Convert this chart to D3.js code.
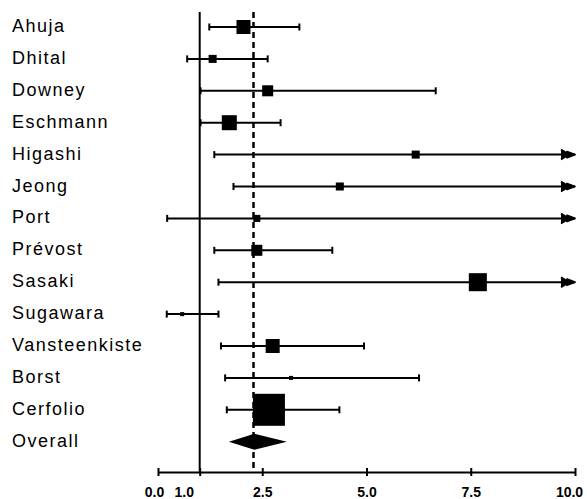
<!DOCTYPE html>
<html>
<head>
<meta charset="utf-8">
<script src="https://cdn.jsdelivr.net/npm/d3@7"></script>
<style>
  body { margin: 0; background: #fff; }
  text { font-family: "Liberation Sans", Arial, sans-serif; fill: #000; }
</style>
</head>
<body>
<div id="chart"></div>
<script>
// Forest plot of study odds ratios

var studies = ["Ahuja", "Dhital", "Downey", "Eschmann", "Higashi", "Jeong", "Port",
  "Prévost", "Sasaki", "Sugawara", "Vansteenkiste", "Borst", "Cerfolio"];
var estimates = [2.05, 1.31, 2.63, 1.71, 6.18, 4.36, 2.37, 2.37, 7.67, 0.58, 2.75, 3.19, 2.66];
var lowers = [1.23, 0.70, 1.02, 1.02, 1.35, 1.81, 0.22, 1.35, 1.45, 0.21, 1.51, 1.61, 1.65];
var uppers = [3.39, 2.63, 6.66, 2.94, 28.3, 10.6, 25.4, 4.18, 40.6, 1.45, 4.94, 6.26, 4.35];
var weights = [7.9, 2.6, 4.9, 9.1, 2.6, 2.6, 2.0, 4.9, 13.1, 0.6, 7.9, 0.6, 41.3];

var overall = {label: "Overall", estimate: 2.31, lower: 1.70, upper: 3.09};
var pooled = 2.29; // dashed reference line
var tickValues = [0, 1, 2.5, 5, 7.5, 10];

var width = 587, height = 499;

var svg = d3.select("#chart")
    .append("svg")
    .attr("width", width)
    .attr("height", height);

var x = d3.scaleLinear()
    .domain([0, 10])
    .range([158, 575]);

var y = d3.scalePoint()
    .domain(studies.concat([overall.label]))
    .range([27, 441.7]);

var size = d3.scaleSqrt()
    .domain([0, d3.max(weights)])
    .range([0, 32]);

var axisY = 472;
var topY = 12;

var rows = studies.map(function(s, i) {
  return {name: s, est: estimates[i], lo: lowers[i], hi: uppers[i], w: weights[i]};
});

// labels
svg.append("g")
  .selectAll("text")
  .data(y.domain())
  .enter()
  .append("text")
  .attr("x", 12)
  .attr("y", function(d) { return y(d) + 5; })
  .style("font-size", "18px")
  .style("letter-spacing", "1.5px")
  .text(function(d) { return d; });

// reference lines
svg.append("line")
  .attr("x1", x(1)).attr("x2", x(1))
  .attr("y1", topY).attr("y2", axisY)
  .attr("stroke", "#000")
  .attr("stroke-width", 2);

svg.append("line")
  .attr("x1", x(pooled)).attr("x2", x(pooled))
  .attr("y1", topY).attr("y2", axisY)
  .attr("stroke", "#000")
  .attr("stroke-width", 2.5)
  .attr("stroke-dasharray", "6,4");

// whiskers
var g = svg.append("g");
var capH = 3.5;
var xMax = x.domain()[1];

rows.forEach(function(r) {
  var cy = y(r.name);
  var hiX = x(Math.min(r.hi, xMax));
  g.append("line")
    .attr("x1", x(r.lo)).attr("x2", hiX)
    .attr("y1", cy).attr("y2", cy)
    .attr("stroke", "#000").attr("stroke-width", 2);
  g.append("line")
    .attr("x1", x(r.lo)).attr("x2", x(r.lo))
    .attr("y1", cy - capH).attr("y2", cy + capH)
    .attr("stroke", "#000").attr("stroke-width", 2);
  if (r.hi > xMax) {
    // open arrow for intervals running off the scale
    g.append("path")
      .attr("d", "M" + (hiX - 14) + "," + (cy - 5) + "L" + (hiX - 6) + "," + cy + "L" + (hiX - 14) + "," + (cy + 5) +
        "M" + (hiX - 8) + "," + (cy - 3) + "L" + hiX + "," + cy + "L" + (hiX - 8) + "," + (cy + 3) + "Z")
      .attr("fill", "#000")
      .attr("fill-rule", "evenodd")
      .attr("stroke", "#000").attr("stroke-width", 1.8)
      .attr("stroke-linejoin", "round");
  } else {
    g.append("line")
      .attr("x1", hiX).attr("x2", hiX)
      .attr("y1", cy - capH).attr("y2", cy + capH)
      .attr("stroke", "#000").attr("stroke-width", 2);
  }
});

// boxes
g.selectAll("rect")
  .data(rows)
  .enter()
  .append("rect")
  .attr("x", function(d) { return x(d.est) - Math.max(size(d.w), 4) / 2; })
  .attr("y", function(d) { return y(d.name) - Math.max(size(d.w), 4) / 2; })
  .attr("width", function(d) { return Math.max(size(d.w), 4); })
  .attr("height", function(d) { return Math.max(size(d.w), 4); })
  .attr("fill", "#000");

// overall diamond
var oy = y(overall.label);
svg.append("path")
  .attr("d", "M" + x(overall.lower) + "," + oy +
    "L" + x(overall.estimate) + "," + (oy - 8) +
    "L" + x(overall.upper) + "," + oy +
    "L" + x(overall.estimate) + "," + (oy + 8) + "Z")
  .attr("fill", "#000");

// x axis
var labelShift = {0: -4, 1: -16, 10: -6};
var axis = svg.append("g")
  .attr("transform", "translate(0," + axisY + ")")
  .call(d3.axisBottom(x).tickValues(tickValues).tickFormat(d3.format(".1f")).tickSizeOuter(0));

axis.select(".domain").attr("stroke-width", 2);
axis.selectAll(".tick line")
  .attr("y1", -4).attr("y2", 4)
  .attr("stroke-width", 2);
axis.selectAll(".tick text")
  .attr("y", 25)
  .attr("dy", 0)
  .attr("dx", function(d) { return labelShift[d] || 0; })
  .style("font-size", "14px")
  .style("font-weight", "bold")
  .style("font-family", "\"Liberation Sans\", Arial, sans-serif");
</script>
</body>
</html>
